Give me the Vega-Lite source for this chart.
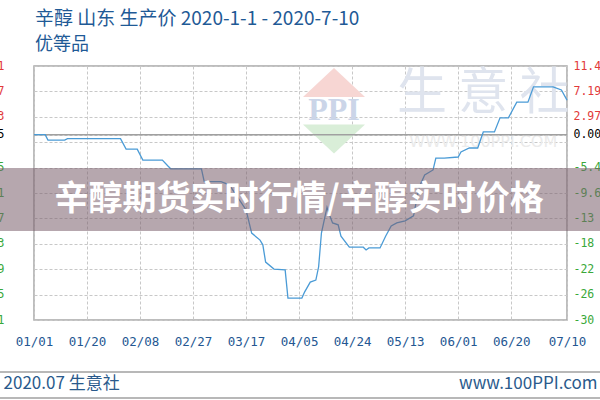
{
  "$schema": "https://vega.github.io/schema/vega-lite/v6.json",
  "width": 533,
  "height": 254,
  "autosize": {"type": "none"},
  "padding": {"left": 34, "top": 66, "right": 33, "bottom": 80},
  "background": "#ffffff",
  "title": {
    "text": "辛醇 山东 生产价 2020-1-1 - 2020-7-10",
    "subtitle": "优等品",
    "anchor": "start",
    "frame": "group",
    "font": "Noto Sans CJK SC",
    "fontSize": 19,
    "fontWeight": "normal",
    "color": "#1f5a96",
    "subtitleFont": "Noto Sans CJK SC",
    "subtitleFontSize": 18,
    "subtitleColor": "#1f5a96",
    "subtitlePadding": 7,
    "offset": 6,
    "dx": 1
  },
  "config": {
    "view": {"stroke": "#a8a8a8", "strokeWidth": 1.5},
    "axis": {"gridColor": "#c8c8c8", "gridDash": [3, 2], "gridWidth": 1}
  },
  "resolve": {"axis": {"y": "independent", "x": "independent"}},
  "layer": [
    {
      "data": {"values": [{}]},
      "mark": {"type": "point", "filled": true, "opacity": 1, "shape": "M-1,0.47L0,-0.47L1,0.47Z", "size": 3844, "color": "#f7d6d3", "strokeWidth": 0},
      "encoding": {
        "x": {"datum": {"year": 2020, "month": 4, "date": 17, "hours": 12, "utc": true}, "type": "temporal", "scale": {"type": "utc", "domain": [{"year": 2020, "month": 1, "date": 1, "utc": true}, {"year": 2020, "month": 7, "date": 10, "utc": true}]}, "axis": null},
        "y": {"datum": 8340, "type": "quantitative", "scale": {"domain": [5311, 8551], "zero": false, "nice": false}, "axis": null}
      }
    },
    {
      "data": {"values": [{}]},
      "mark": {"type": "point", "filled": true, "opacity": 1, "shape": "M-1,-0.47L0,0.47L1,-0.47Z", "size": 3844, "color": "#d9eed8", "strokeWidth": 0},
      "encoding": {
        "x": {"datum": {"year": 2020, "month": 4, "date": 17, "hours": 12, "utc": true}, "type": "temporal", "axis": null},
        "y": {"datum": 7620, "type": "quantitative", "axis": null}
      }
    },
    {
      "data": {"values": [{}]},
      "mark": {"type": "text", "text": "PPI", "font": "Liberation Serif", "fontWeight": "bold", "fontSize": 32, "color": "#cbd5e8", "align": "center", "baseline": "middle"},
      "encoding": {
        "x": {"datum": {"year": 2020, "month": 4, "date": 17, "hours": 12, "utc": true}, "type": "temporal", "axis": null},
        "y": {"datum": 7990, "type": "quantitative", "axis": null}
      }
    },
    {
      "data": {"values": [{}]},
      "mark": {"type": "text", "text": "生 意 社", "font": "Noto Sans CJK SC", "fontSize": 50, "color": "#dfe4ee", "align": "center", "baseline": "middle"},
      "encoding": {
        "x": {"datum": {"year": 2020, "month": 6, "date": 10, "utc": true}, "type": "temporal", "axis": null},
        "y": {"datum": 8194, "type": "quantitative", "axis": null}
      }
    },
    {
      "data": {"values": [{}]},
      "mark": {"type": "text", "text": "WWW.100PPI.COM", "font": "DejaVu Sans", "fontSize": 16, "color": "#ebebeb", "align": "center", "baseline": "middle"},
      "encoding": {
        "x": {"datum": {"year": 2020, "month": 6, "date": 10, "utc": true}, "type": "temporal", "axis": null},
        "y": {"datum": 7582, "type": "quantitative", "axis": null}
      }
    },
    {
      "data": {"values": [{}]},
      "mark": {"type": "rule", "color": "#a0a0a0", "strokeWidth": 1.5},
      "encoding": {
        "x": {"datum": {"year": 2020, "month": 1, "date": 1, "utc": true}, "type": "temporal", "axis": null},
        "x2": {"datum": {"year": 2020, "month": 7, "date": 10, "utc": true}},
        "y": {"datum": 7675, "type": "quantitative", "axis": {
          "orient": "right",
          "title": null,
          "values": [8551, 8227, 7903, 7675, 7255, 6931, 6607, 6283, 5959, 5635, 5311],
          "labelExpr": "datum.value==8551?'11.4':datum.value==8227?'7.19':datum.value==7903?'2.97':datum.value==7675?'0.00':datum.value==7255?'-5.4':datum.value==6931?'-9.6':datum.value==6607?'-13':datum.value==6283?'-18':datum.value==5959?'-22':datum.value==5635?'-26':'-30'",
          "labelFont": "DejaVu Sans Mono",
          "labelFontSize": 11.5,
          "labelPadding": 6,
          "labelOverlap": false,
          "labelFlush": false,
          "ticks": false,
          "domain": false,
          "grid": false,
          "labelColor": {"condition": [{"test": "datum.value > 7675", "value": "#e23a3a"}, {"test": "datum.value == 7675", "value": "#000000"}], "value": "#3aa83a"}
        }}
      }
    },
    {
      "data": {
        "values": [
          {"date": "2020-01-01", "price": 7675},
          {"date": "2020-01-05", "price": 7675},
          {"date": "2020-01-06", "price": 7605},
          {"date": "2020-01-12", "price": 7605},
          {"date": "2020-01-13", "price": 7625},
          {"date": "2020-02-01", "price": 7625},
          {"date": "2020-02-03", "price": 7490},
          {"date": "2020-02-07", "price": 7490},
          {"date": "2020-02-09", "price": 7350},
          {"date": "2020-02-16", "price": 7350},
          {"date": "2020-02-18", "price": 7275},
          {"date": "2020-02-19", "price": 7240},
          {"date": "2020-03-01", "price": 7240},
          {"date": "2020-03-02", "price": 7075},
          {"date": "2020-03-08", "price": 7075},
          {"date": "2020-03-11", "price": 7035},
          {"date": "2020-03-17", "price": 6715},
          {"date": "2020-03-19", "price": 6420},
          {"date": "2020-03-22", "price": 6330},
          {"date": "2020-03-23", "price": 6270},
          {"date": "2020-03-24", "price": 6050},
          {"date": "2020-03-27", "price": 5960},
          {"date": "2020-03-31", "price": 5950},
          {"date": "2020-04-01", "price": 5590},
          {"date": "2020-04-06", "price": 5590},
          {"date": "2020-04-07", "price": 5670},
          {"date": "2020-04-09", "price": 5795},
          {"date": "2020-04-11", "price": 5820},
          {"date": "2020-04-12", "price": 5990},
          {"date": "2020-04-13", "price": 6420},
          {"date": "2020-04-15", "price": 6750},
          {"date": "2020-04-16", "price": 6640},
          {"date": "2020-04-17", "price": 6550},
          {"date": "2020-04-19", "price": 6525},
          {"date": "2020-04-20", "price": 6380},
          {"date": "2020-04-23", "price": 6240},
          {"date": "2020-04-28", "price": 6240},
          {"date": "2020-04-29", "price": 6205},
          {"date": "2020-04-30", "price": 6230},
          {"date": "2020-05-04", "price": 6230},
          {"date": "2020-05-06", "price": 6380},
          {"date": "2020-05-08", "price": 6510},
          {"date": "2020-05-10", "price": 6550},
          {"date": "2020-05-13", "price": 6575},
          {"date": "2020-05-16", "price": 6640},
          {"date": "2020-05-18", "price": 7005},
          {"date": "2020-05-20", "price": 7160},
          {"date": "2020-05-23", "price": 7225},
          {"date": "2020-05-24", "price": 7375},
          {"date": "2020-05-27", "price": 7375},
          {"date": "2020-06-01", "price": 7390},
          {"date": "2020-06-02", "price": 7455},
          {"date": "2020-06-05", "price": 7505},
          {"date": "2020-06-08", "price": 7505},
          {"date": "2020-06-10", "price": 7710},
          {"date": "2020-06-14", "price": 7710},
          {"date": "2020-06-16", "price": 7890},
          {"date": "2020-06-19", "price": 7890},
          {"date": "2020-06-22", "price": 8090},
          {"date": "2020-06-26", "price": 8090},
          {"date": "2020-06-28", "price": 8285},
          {"date": "2020-07-05", "price": 8285},
          {"date": "2020-07-08", "price": 8245},
          {"date": "2020-07-10", "price": 8115}
        ]
      },
      "mark": {"type": "line", "color": "#4a9bd6", "strokeWidth": 1.3},
      "encoding": {
        "x": {"field": "date", "type": "temporal", "axis": {
          "title": null,
          "values": [
            {"year": 2020, "month": 1, "date": 1, "utc": true},
            {"year": 2020, "month": 1, "date": 20, "utc": true},
            {"year": 2020, "month": 2, "date": 8, "utc": true},
            {"year": 2020, "month": 2, "date": 27, "utc": true},
            {"year": 2020, "month": 3, "date": 17, "utc": true},
            {"year": 2020, "month": 4, "date": 5, "utc": true},
            {"year": 2020, "month": 4, "date": 24, "utc": true},
            {"year": 2020, "month": 5, "date": 13, "utc": true},
            {"year": 2020, "month": 6, "date": 1, "utc": true},
            {"year": 2020, "month": 6, "date": 20, "utc": true},
            {"year": 2020, "month": 7, "date": 10, "utc": true}
          ],
          "labelExpr": "utcFormat(datum.value, '%m/%d')",
          "labelFont": "DejaVu Sans Mono",
          "labelFontSize": 12.5,
          "labelColor": "#245792",
          "labelPadding": 15,
          "labelFlush": false,
          "labelOverlap": false,
          "ticks": false,
          "domain": false,
          "grid": true
        }},
        "y": {"field": "price", "type": "quantitative", "axis": {
          "title": null,
          "values": [8551, 8227, 7903, 7675, 7579, 7255, 6931, 6607, 6283, 5959, 5635, 5311],
          "format": "d",
          "labelExpr": "datum.value==7579?'':datum.label",
          "labelFont": "DejaVu Sans Mono",
          "labelFontSize": 11.5,
          "labelPadding": 30,
          "labelOverlap": false,
          "labelFlush": false,
          "ticks": false,
          "domain": false,
          "grid": true,
          "labelColor": {"condition": [{"test": "datum.value > 7675", "value": "#e23a3a"}, {"test": "datum.value == 7675", "value": "#000000"}], "value": "#3aa83a"}
        }}
      }
    },
    {
      "data": {"values": [{}]},
      "mark": {"type": "rect", "color": "#7a5f6c", "opacity": 0.55},
      "encoding": {
        "x": {"datum": {"year": 2019, "month": 12, "date": 19, "utc": true}, "type": "temporal", "axis": null},
        "x2": {"datum": {"year": 2020, "month": 7, "date": 22, "utc": true}},
        "y": {"datum": 7250, "type": "quantitative", "axis": null},
        "y2": {"datum": 6446}
      }
    },
    {
      "data": {"values": [{}]},
      "mark": {"type": "text", "text": "辛醇期货实时行情/辛醇实时价格", "font": "Noto Sans CJK SC", "fontWeight": "bold", "fontSize": 34, "color": "#ffffff", "align": "center", "baseline": "middle"},
      "encoding": {
        "x": {"datum": {"year": 2020, "month": 4, "date": 5, "utc": true}, "type": "temporal", "axis": null},
        "y": {"datum": 6842, "type": "quantitative", "axis": null}
      }
    },
    {
      "data": {"values": [{"yv": 4648}, {"yv": 4316}]},
      "mark": {"type": "rule", "color": "#a0a0a0", "strokeWidth": 1.5},
      "encoding": {
        "x": {"datum": {"year": 2019, "month": 12, "date": 19, "utc": true}, "type": "temporal", "axis": null},
        "x2": {"datum": {"year": 2020, "month": 7, "date": 22, "utc": true}},
        "y": {"field": "yv", "type": "quantitative", "axis": null}
      }
    },
    {
      "data": {"values": [{}]},
      "mark": {"type": "text", "text": "2020.07 生意社", "font": "Noto Sans CJK SC", "fontSize": 17, "color": "#2a5a8c", "align": "left", "baseline": "middle", "dx": 3},
      "encoding": {
        "x": {"datum": {"year": 2019, "month": 12, "date": 20, "utc": true}, "type": "temporal", "axis": null},
        "y": {"datum": 4495, "type": "quantitative", "axis": null}
      }
    },
    {
      "data": {"values": [{}]},
      "mark": {"type": "text", "text": "www.100PPI.com", "font": "Noto Sans CJK SC", "fontSize": 17, "color": "#2a5a8c", "align": "right", "baseline": "middle", "dx": -3},
      "encoding": {
        "x": {"datum": {"year": 2020, "month": 7, "date": 22, "utc": true}, "type": "temporal", "axis": null},
        "y": {"datum": 4495, "type": "quantitative", "axis": null}
      }
    }
  ]
}
